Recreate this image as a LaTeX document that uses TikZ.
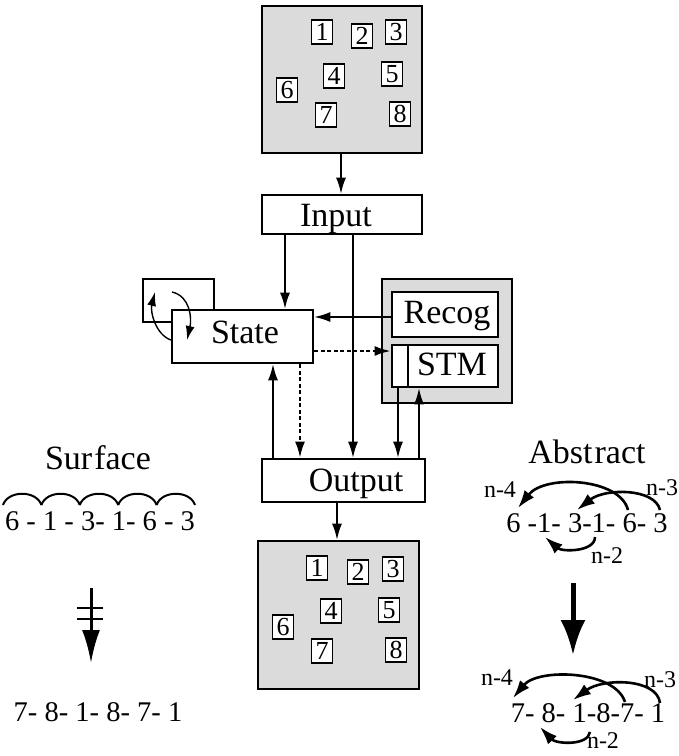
\documentclass[tikz,border=0pt]{standalone}
\usepackage{fontspec}
\setmainfont{Liberation Serif}
\usetikzlibrary{arrows.meta}
\definecolor{panel}{gray}{0.86}
\tikzset{
  big/.style={font=\fontsize{34}{36}\selectfont},
  seq/.style={font=\fontsize{28.5}{30}\selectfont, inner sep=0pt},
  lab/.style={font=\fontsize{24}{26}\selectfont, inner sep=0pt},
  panelbox/.style={draw, line width=2.8pt, fill=panel, inner sep=0pt},
  mainbox/.style={draw, line width=2.8pt, fill=white, inner sep=0pt},
  numbox/.style={draw, line width=1.6pt, fill=white, inner sep=0pt, minimum width=21pt, minimum height=24pt, font=\fontsize{26}{26}\selectfont},
  conn/.style={line width=1.4pt, -{Latex[length=16pt,width=10pt]}},
  dconn/.style={line width=2pt, dash pattern=on 4pt off 2.5pt, -{Latex[length=16pt,width=10pt]}},
  curv/.style={line width=2.6pt, -{Latex[length=18pt,width=12pt]}},
}
\begin{document}
\begin{tikzpicture}[x=1pt,y=-1pt]
\useasboundingbox (0,0) rectangle (679,756);

% top panel
\node[panelbox, minimum width=160pt, minimum height=147pt] (top) at (342,79.5) {};
\node[numbox] (t1) at (322,32) {1};
\node[numbox] (t2) at (362,36) {2};
\node[numbox] (t3) at (396,32) {3};
\node[numbox] (t4) at (334,76) {4};
\node[numbox] (t5) at (392,74) {5};
\node[numbox] (t6) at (287,90) {6};
\node[numbox] (t7) at (326,115) {7};
\node[numbox] (t8) at (400,114) {8};

% Input
\node[mainbox, minimum width=160pt, minimum height=39pt] (input) at (342,214.5) {};
\node[big, anchor=base] (inputt) at (336,226) {Input};

% small loop box and State
\node[mainbox, minimum width=71pt, minimum height=43pt] (loopbox) at (178.5,300.5) {};
\node[mainbox, minimum width=141pt, minimum height=53pt] (state) at (242.5,336.5) {};
\node[big, anchor=base] (statet) at (245,343) {State};

% Recog / STM panel
\node[panelbox, minimum width=130pt, minimum height=124pt] (rpanel) at (447,341) {};
\node[mainbox, minimum width=106pt, minimum height=45pt] (recog) at (445,314.5) {};
\node[big, anchor=base] (recogt) at (447,323) {Recog};
\node[mainbox, minimum width=106pt, minimum height=42pt] (stm) at (445,366) {};
\coordinate (divt) at (408,345);
\coordinate (divb) at (408,387);
\draw[line width=2pt] (divt) -- (divb);
\node[big, anchor=base] (stmt) at (452,375) {STM};

% Output
\node[mainbox, minimum width=163pt, minimum height=43pt] (output) at (343.5,480.5) {};
\node[big, anchor=base] (outputt) at (356,491) {Output};

% bottom panel
\node[panelbox, minimum width=161pt, minimum height=148pt] (bot) at (338.5,615) {};
\node[numbox] (b1) at (317,568) {1};
\node[numbox] (b2) at (358,572) {2};
\node[numbox] (b3) at (393,569) {3};
\node[numbox] (b4) at (331,611) {4};
\node[numbox] (b5) at (389,610) {5};
\node[numbox] (b6) at (283,627) {6};
\node[numbox] (b7) at (322,651) {7};
\node[numbox] (b8) at (396,650) {8};

% connectors
\draw[conn] (top.south -| 341,0) -- (input.north -| 341,0);
\draw[conn] (input.south -| 285,0) -- (state.north -| 285,0);
\draw[conn] (input.south -| 353,0) -- (output.north -| 353,0);
\draw[conn] (recog.west |- 0,317) -- (state.east |- 0,317);
\draw[dconn] (state.east |- 0,351) -- (stm.west |- 0,351);
\draw[conn] (output.north -| 273,0) -- (state.south -| 273,0);
\draw[dconn] (state.south -| 300,0) -- (output.north -| 300,0);
\draw[conn] (stm.south -| 398,0) -- (output.north -| 398,0);
\draw[conn] (output.north -| 419,0) -- (stm.south -| 419,0);
\draw[conn] (output.south -| 337,0) -- (bot.north -| 337,0);

% loop arrows
\coordinate (la1) at (171,340);
\coordinate (la2) at (155,292);
\coordinate (lb1) at (172,292);
\coordinate (lb2) at (187,340);
\draw[line width=1.4pt, -{Latex[length=14pt,width=9pt]}] (la1) .. controls (156,335) and (150,312) .. (la2);
\draw[line width=1.4pt, -{Latex[length=14pt,width=9pt]}] (lb1) .. controls (190,296) and (192,318) .. (lb2);

% Surface
\node[big, anchor=base] (surf) at (98,469) {Sur\kern2pt face};
\foreach \i in {0,...,4} {
  \draw[line width=2pt] (3+38.4*\i,505) .. controls (8+38.4*\i,490) and (36.4+38.4*\i,490) .. (41.4+38.4*\i,505);
}
\node[seq, anchor=base] (sseq1) at (100,530) {6 - 1 - 3- 1- 6 - 3};
\coordinate (sa1) at (91,588);
\coordinate (sa2) at (91,663);
\draw[line width=3pt, -{Latex[length=33pt,width=18pt]}] (sa1) -- (sa2);
\draw[line width=2.5pt] (77,608) -- (103,608);
\draw[line width=2.5pt] (77,619) -- (103,619);
\node[seq, anchor=base] (sseq2) at (98,721) {7- 8- 1- 8- 7- 1};

% Abstract
\node[big, anchor=base] (abs) at (587,463) {Abst\kern2pt ract};
\node[seq, anchor=base] (aseq1) at (587,532) {6 -1- 3-1- 6- 3};
\node[lab, anchor=base] (n4a) at (500,497) {n-4};
\node[lab, anchor=base] (n3a) at (662,495) {n-3};
\node[lab, anchor=base] (n2a) at (607,563) {n-2};
\draw[curv] (628,510) .. controls (620,478) and (545,474) .. (518,508);
\draw[curv] (660,510) .. controls (655,488) and (605,488) .. (577,510);
\draw[curv] (595,537) .. controls (595,552) and (562,552) .. (545,537);

\coordinate (ba1) at (573,583);
\coordinate (ba2) at (573,655);
\draw[line width=5pt, -{Latex[length=35pt,width=25pt]}] (ba1) -- (ba2);

\node[seq, anchor=base] (aseq2) at (588,722) {7- 8- 1-8-7- 1};
\node[lab, anchor=base] (n4b) at (497,685) {n-4};
\node[lab, anchor=base] (n3b) at (660,687) {n-3};
\node[lab, anchor=base] (n2b) at (603,748) {n-2};
\draw[curv] (625,702) .. controls (615,670) and (538,668) .. (513,698);
\draw[curv] (660,703) .. controls (657,678) and (603,678) .. (573,700);
\draw[curv] (590,732) .. controls (588,746) and (556,744) .. (540,727);
\end{tikzpicture}
\end{document}
